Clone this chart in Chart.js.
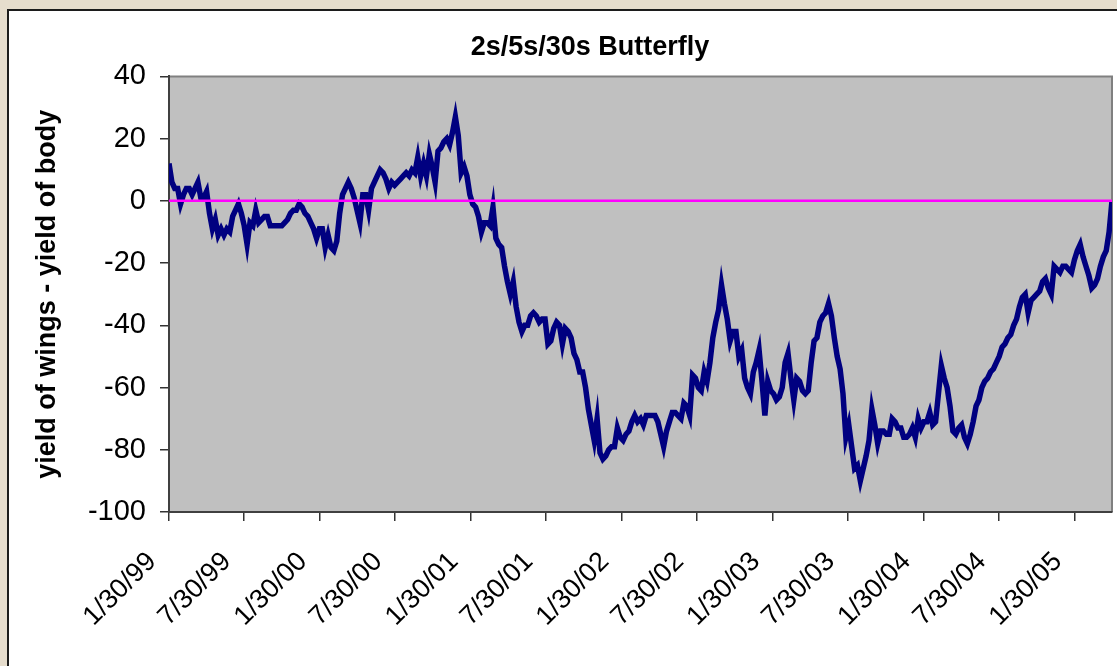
<!DOCTYPE html>
<html>
<head>
<meta charset="utf-8">
<title>2s/5s/30s Butterfly</title>
<script src="https://cdn.jsdelivr.net/npm/chart.js@4.4.0/dist/chart.umd.min.js"></script>
<style>
  html, body { margin: 0; padding: 0; width: 1117px; height: 666px; overflow: hidden; background: #e6ddcd; }
  #box { position: absolute; left: 7px; top: 9px; width: 1200px; height: 700px; background: #fff; border: 2px solid #1c1c1c; }
  #wrap { position: absolute; left: 0; top: 0; width: 1180px; height: 666px; }
</style>
</head>
<body>
<div id="box"></div>
<div id="wrap"><canvas id="butterflyChart" width="1180" height="666"></canvas></div>
<script>
// weekly readings, starting 1/30/99
const startDate = '1/30/99';
const stepDays = 7;
const spread = [
  12, 6, 4, 4, -1, 2, 4, 4, 2, 4,
  6, 1, 1, 3, -4, -9, -6, -11, -9, -11,
  -9, -10, -5, -3, -1, -4, -8, -14, -7, -8,
  -3, -7, -6, -5, -5, -8, -8, -8, -8, -8,
  -7, -6, -4, -3, -3, -1, -2, -4, -5, -7,
  -9, -12, -9, -9, -15, -11, -15, -16, -13, -4,
  2, 4, 6, 4, 1, -3, -7, 2, 2, -3,
  4, 6, 8, 10, 9, 7, 4, 6, 5, 6,
  7, 8, 9, 8, 10, 9, 14, 8, 12, 8,
  15, 11, 6, 16, 17, 19, 20, 18, 22, 27,
  21, 9, 11, 8, 2, -1, -2, -5, -10, -7,
  -7, -8, -2, -12, -14, -15, -21, -26, -30, -26,
  -34, -39, -42, -40, -40, -37, -36, -37, -39, -38,
  -38, -46, -45, -41, -39, -40, -46, -41, -42, -44,
  -49, -51, -55, -55, -60, -67, -72, -77, -70, -81,
  -83, -82, -80, -79, -79, -73, -76, -77, -75, -74,
  -71, -69, -71, -70, -72, -69, -69, -69, -69, -71,
  -75, -79, -74, -71, -68, -68, -69, -70, -65, -66,
  -69, -56, -57, -60, -61, -55, -58, -52, -44, -39,
  -35, -27, -33, -38, -45, -42, -42, -50, -48, -57,
  -60, -62, -55, -52, -48, -58, -69, -58, -61, -62,
  -64, -63, -60, -52, -49, -57, -64, -57, -58, -61,
  -62, -61, -52, -45, -44, -39, -37, -36, -33, -37,
  -44, -50, -54, -62, -76, -72, -79, -86, -85, -90,
  -86, -82, -77, -67, -72, -78, -74, -74, -75, -75,
  -70, -71, -73, -73, -76, -76, -75, -73, -76, -70,
  -73, -71, -71, -68, -72, -71, -62, -53, -57, -60,
  -66, -74, -75, -73, -72, -76, -78, -75, -71, -66,
  -64, -60, -58, -57, -55, -54, -52, -50, -47, -46,
  -44, -43, -40, -38, -34, -31, -30, -36, -32, -31,
  -30, -29, -26, -25, -28, -30, -21, -22, -23, -21,
  -21, -22, -23, -19, -16, -14, -18, -21, -24, -28,
  -27, -25, -21, -18, -16, -10, 0
];
const zeroLine = [0, 0];
const tickLabels = ['1/30/99', '7/30/99', '1/30/00', '7/30/00', '1/30/01', '7/30/01', '1/30/02',
                    '7/30/02', '1/30/03', '7/30/03', '1/30/04', '7/30/04', '1/30/05'];
const yTicks = [-100, -80, -60, -40, -20, 0, 20, 40];
const chartTitle = '2s/5s/30s Butterfly';
const yTitle = 'yield of wings - yield of body';

const FONT = "'Liberation Sans', Arial, Helvetica, sans-serif";

// m/d/yy -> days since startDate
function parseDay(s) {
  const [m, d, yy] = s.split('/').map(Number);
  const y = yy > 50 ? 1900 + yy : 2000 + yy;
  return Date.UTC(y, m - 1, d) / 86400000;
}
const day0 = parseDay(startDate);
const tickDays = tickLabels.map(s => parseDay(s) - day0);
const lastDay = (spread.length - 1) * stepDays;

const spreadPoints = spread.map((v, i) => ({ x: i * stepDays, y: v }));
const zeroPoints = zeroLine.map((v, i) => ({ x: i * lastDay, y: v }));

// grey plot area with the Excel-style frame
const plotBackground = {
  id: 'plotBackground',
  beforeDraw(chart) {
    const { ctx, chartArea: a } = chart;
    ctx.save();
    ctx.fillStyle = '#c0c0c0';
    ctx.fillRect(a.left, a.top, a.right - a.left, a.bottom - a.top);
    ctx.strokeStyle = '#808080';
    ctx.lineWidth = 2;
    ctx.beginPath();
    ctx.moveTo(a.left, a.top);
    ctx.lineTo(a.right, a.top);
    ctx.lineTo(a.right, a.bottom);
    ctx.stroke();
    ctx.restore();
  }
};

const ctx = document.getElementById('butterflyChart');
new Chart(ctx, {
  type: 'line',
  data: {
    datasets: [
      {
        data: zeroPoints,
        borderColor: '#ff00ff',
        borderWidth: 2.5,
        pointRadius: 0,
        order: 0
      },
      {
        data: spreadPoints,
        borderColor: '#000080',
        borderWidth: 5.5,
        pointRadius: 0,
        tension: 0,
        order: 1
      }
    ]
  },
  options: {
    responsive: false,
    animation: false,
    events: [],
    layout: { padding: 0 },
    plugins: {
      legend: { display: false },
      tooltip: { enabled: false },
      title: {
        display: true,
        text: chartTitle,
        color: '#000',
        font: { family: FONT, size: 27, weight: 'bold' },
        padding: { top: 31, bottom: 13 }
      }
    },
    scales: {
      x: {
        type: 'linear',
        min: 0,
        max: lastDay,
        afterBuildTicks: (scale) => { scale.ticks = tickDays.map(v => ({ value: v })); },
        afterFit: (scale) => { scale.height = 154; },
        ticks: {
          autoSkip: false,
          minRotation: 45,
          maxRotation: 45,
          padding: 25,
          labelOffset: -17,
          color: '#000',
          font: { family: FONT, size: 27 },
          callback: (v, i) => tickLabels[i]
        },
        grid: { drawOnChartArea: false, drawTicks: true, tickLength: 9, color: '#333', lineWidth: 1.5 },
        border: { color: '#404040', width: 2 }
      },
      y: {
        min: -100,
        max: 40,
        afterBuildTicks: (scale) => { scale.ticks = yTicks.map(v => ({ value: v })); },
        afterFit: (scale) => { scale.width = 169; },
        ticks: {
          padding: 14,
          color: '#000',
          font: { family: FONT, size: 29 }
        },
        grid: { drawOnChartArea: false, drawTicks: true, tickLength: 9, color: '#333', lineWidth: 1.5 },
        border: { color: '#404040', width: 2 },
        title: {
          display: true,
          text: yTitle,
          color: '#000',
          font: { family: FONT, size: 27, weight: 'bold' },
          padding: { top: 31, bottom: 0 }
        }
      },
      y2: {
        position: 'right',
        min: -100,
        max: 40,
        afterFit: (scale) => { scale.width = 68; },
        ticks: { display: false },
        grid: { display: false },
        border: { display: false }
      }
    }
  },
  plugins: [plotBackground]
});
</script>
</body>
</html>
